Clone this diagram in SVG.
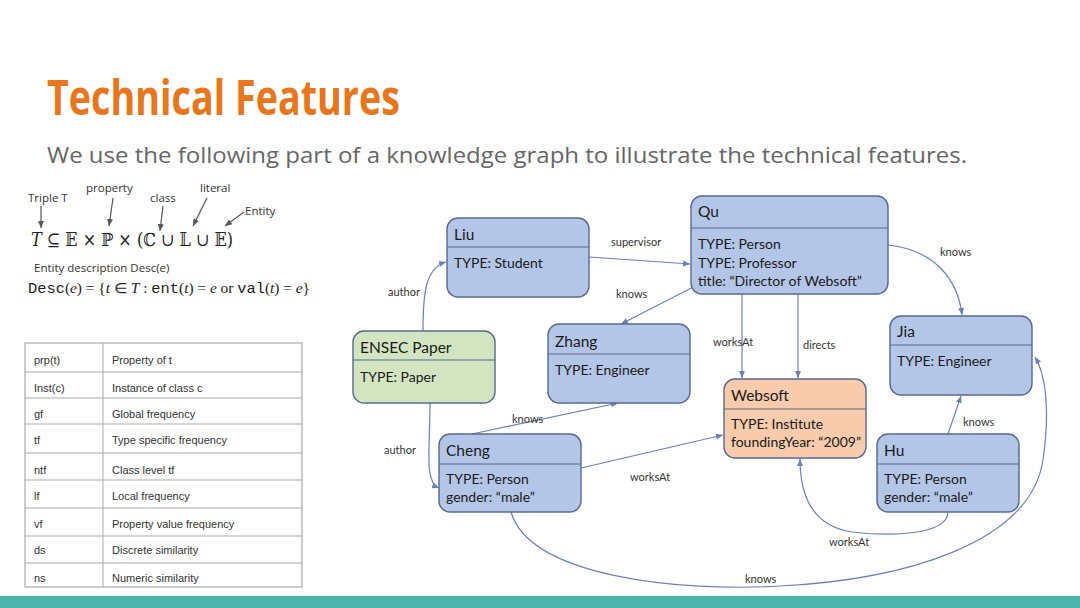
<svg xmlns="http://www.w3.org/2000/svg" width="1080" height="608" viewBox="0 0 1080 608">
<defs>
<style>
.node{stroke:#58698f;stroke-width:1.4}
.blue{fill:#b4c6e7}
.green{fill:#d3e4c1}
.orange{fill:#f7cbac}
.div{stroke:#58698f;stroke-width:1.1}
.nm{font-family:Lato,"Open Sans",sans-serif;font-size:15.5px;fill:#1a1a1a}
.at{font-family:Lato,"Open Sans",sans-serif;font-size:14px;fill:#1a1a1a}
.edge{fill:none;stroke:#6a80bd;stroke-width:1.2}
.el{font-family:Lato,"Open Sans",sans-serif;font-size:11px;fill:#333}
.tb{font-family:"Liberation Sans",Arial,sans-serif;font-size:11px;fill:#333}
.tl{stroke:#aaa;stroke-width:1}
.ann{font-family:"Open Sans",sans-serif;font-size:11.5px;fill:#333}
.ga{stroke:#555;stroke-width:1.2;fill:none}
</style>
<marker id="ah" markerWidth="8" markerHeight="8" refX="7" refY="4" orient="auto" markerUnits="userSpaceOnUse">
<path d="M0,1 L7,4 L0,7 Z" fill="#6a80bd"/>
</marker>
<marker id="ga" markerWidth="8" markerHeight="8" refX="7" refY="4" orient="auto" markerUnits="userSpaceOnUse">
<path d="M0,1 L7,4 L0,7 Z" fill="#555"/>
</marker>
</defs>
<rect x="0" y="0" width="1080" height="608" fill="#fff"/>
<text x="47" y="115" font-family="'Open Sans',sans-serif" font-weight="bold" font-size="48" fill="#e8761c" textLength="353" lengthAdjust="spacingAndGlyphs">Technical Features</text>
<text x="47" y="163" font-family="'Open Sans',sans-serif" font-size="22" fill="#666" textLength="920" lengthAdjust="spacingAndGlyphs">We use the following part of a knowledge graph to illustrate the technical features.</text>

<g id="formula">
<text class="ann" x="28" y="202">Triple T</text>
<text class="ann" x="86" y="192">property</text>
<text class="ann" x="150" y="202">class</text>
<text class="ann" x="200" y="192">literal</text>
<text class="ann" x="245" y="215">Entity</text>
<line class="ga" x1="41" y1="206" x2="41" y2="228" marker-end="url(#ga)"/>
<line class="ga" x1="113" y1="198" x2="109" y2="226" marker-end="url(#ga)"/>
<line class="ga" x1="163" y1="206" x2="160" y2="231" marker-end="url(#ga)"/>
<line class="ga" x1="207" y1="198" x2="193" y2="226" marker-end="url(#ga)"/>
<line class="ga" x1="244" y1="212" x2="225" y2="226" marker-end="url(#ga)"/>
<text x="31" y="246" font-family="'DejaVu Serif','Liberation Serif',serif" font-size="18" fill="#222" textLength="202" lengthAdjust="spacingAndGlyphs"><tspan font-style="italic">T</tspan> ⊆ 𝔼 × ℙ × (ℂ ∪ 𝕃 ∪ 𝔼)</text>
<text class="ann" x="34" y="272">Entity description Desc(e)</text>
<text x="28" y="293" font-family="'Liberation Serif',serif" font-size="14" fill="#222" textLength="282" lengthAdjust="spacingAndGlyphs"><tspan font-family="'Liberation Mono',monospace">Desc</tspan>(<tspan font-style="italic">e</tspan>) = {<tspan font-style="italic">t</tspan> ∈ <tspan font-style="italic">T</tspan> : <tspan font-family="'Liberation Mono',monospace">ent</tspan>(<tspan font-style="italic">t</tspan>) = <tspan font-style="italic">e</tspan> or <tspan font-family="'Liberation Mono',monospace">val</tspan>(<tspan font-style="italic">t</tspan>) = <tspan font-style="italic">e</tspan>}</text>
</g>

<g id="table">
<rect x="25" y="343" width="277" height="244" fill="#fff" stroke="#999" stroke-width="1"/>
<line class="tl" x1="103" y1="343" x2="103" y2="587"/>
<line class="tl" x1="25" y1="372" x2="302" y2="372"/>
<line class="tl" x1="25" y1="398" x2="302" y2="398"/>
<line class="tl" x1="25" y1="424" x2="302" y2="424"/>
<line class="tl" x1="25" y1="453" x2="302" y2="453"/>
<line class="tl" x1="25" y1="480" x2="302" y2="480"/>
<line class="tl" x1="25" y1="508" x2="302" y2="508"/>
<line class="tl" x1="25" y1="536" x2="302" y2="536"/>
<line class="tl" x1="25" y1="563" x2="302" y2="563"/>
<text class="tb" x="34" y="364">prp(t)</text><text class="tb" x="112" y="364">Property of t</text>
<text class="tb" x="34" y="392">Inst(c)</text><text class="tb" x="112" y="392">Instance of class c</text>
<text class="tb" x="34" y="418">gf</text><text class="tb" x="112" y="418">Global frequency</text>
<text class="tb" x="34" y="444">tf</text><text class="tb" x="112" y="444">Type specific frequency</text>
<text class="tb" x="34" y="474">ntf</text><text class="tb" x="112" y="474">Class level tf</text>
<text class="tb" x="34" y="500">lf</text><text class="tb" x="112" y="500">Local frequency</text>
<text class="tb" x="34" y="528">vf</text><text class="tb" x="112" y="528">Property value frequency</text>
<text class="tb" x="34" y="554">ds</text><text class="tb" x="112" y="554">Discrete similarity</text>
<text class="tb" x="34" y="582">ns</text><text class="tb" x="112" y="582">Numeric similarity</text>
</g>

<g id="connectors">
<path class="edge" d="M423,331 C423,295 425,268 446,262" marker-end="url(#ah)"/>
<text class="el" x="388" y="296">author</text>
<path class="edge" d="M430,403 C430,450 424,482 439,488" marker-end="url(#ah)"/>
<text class="el" x="384" y="454">author</text>
<path class="edge" d="M589,257 L690,264" marker-end="url(#ah)"/>
<text class="el" x="611" y="246">supervisor</text>
<path class="edge" d="M707,280 L621,324" marker-end="url(#ah)"/>
<text class="el" x="616" y="298">knows</text>
<path class="edge" d="M742,294 L742,378" marker-end="url(#ah)"/>
<text class="el" x="713" y="346">worksAt</text>
<path class="edge" d="M798,294 L798,378" marker-end="url(#ah)"/>
<text class="el" x="803" y="349">directs</text>
<path class="edge" d="M888,245 C935,250 958,280 962,315" marker-end="url(#ah)"/>
<text class="el" x="940" y="256">knows</text>
<path class="edge" d="M472,434 L618,403" marker-end="url(#ah)"/>
<text class="el" x="512" y="423">knows</text>
<path class="edge" d="M581,468 L723,435" marker-end="url(#ah)"/>
<text class="el" x="630" y="481">worksAt</text>
<path class="edge" d="M948,434 L961,396" marker-end="url(#ah)"/>
<text class="el" x="963" y="426">knows</text>
<path class="edge" d="M948,513 C946,534 895,537 852,532 C812,526 800,495 800,459" marker-end="url(#ah)"/>
<text class="el" x="829" y="546">worksAt</text>
<path class="edge" d="M511,512 C530,577 680,592 780,586 C900,580 1030,545 1043,460 C1050,410 1046,375 1035,357" marker-end="url(#ah)"/>
<text class="el" x="745" y="583">knows</text>
</g>

<g id="liu">
<rect class="node blue" x="447" y="218" width="142" height="79" rx="11"/>
<line class="div" x1="447" y1="247" x2="589" y2="247"/>
<text class="nm" x="454" y="240">Liu</text>
<text class="at" x="454" y="268">TYPE: Student</text>
</g>
<g id="qu">
<rect class="node blue" x="691" y="196" width="197" height="98" rx="11"/>
<line class="div" x1="691" y1="228" x2="888" y2="228"/>
<text class="nm" x="698" y="217">Qu</text>
<text class="at" x="698" y="249">TYPE: Person</text>
<text class="at" x="698" y="268">TYPE: Professor</text>
<text class="at" x="698" y="286">title: “Director of Websoft”</text>
</g>
<g id="ensec">
<rect class="node green" x="353" y="331" width="142" height="72" rx="11"/>
<line class="div" x1="353" y1="360" x2="495" y2="360"/>
<text class="nm" x="360" y="353">ENSEC Paper</text>
<text class="at" x="360" y="382">TYPE: Paper</text>
</g>
<g id="zhang">
<rect class="node blue" x="548" y="324" width="142" height="79" rx="11"/>
<line class="div" x1="548" y1="354" x2="690" y2="354"/>
<text class="nm" x="555" y="347">Zhang</text>
<text class="at" x="555" y="375">TYPE: Engineer</text>
</g>
<g id="websoft">
<rect class="node orange" x="724" y="379" width="142" height="79" rx="11"/>
<line class="div" x1="724" y1="409" x2="866" y2="409"/>
<text class="nm" x="731" y="401">Websoft</text>
<text class="at" x="731" y="429">TYPE: Institute</text>
<text class="at" x="731" y="447">foundingYear: “2009”</text>
</g>
<g id="jia">
<rect class="node blue" x="890" y="316" width="142" height="79" rx="11"/>
<line class="div" x1="890" y1="345" x2="1032" y2="345"/>
<text class="nm" x="897" y="337">Jia</text>
<text class="at" x="897" y="366">TYPE: Engineer</text>
</g>
<g id="cheng">
<rect class="node blue" x="439" y="434" width="142" height="78" rx="11"/>
<line class="div" x1="439" y1="464" x2="581" y2="464"/>
<text class="nm" x="446" y="456">Cheng</text>
<text class="at" x="446" y="484">TYPE: Person</text>
<text class="at" x="446" y="502">gender: “male”</text>
</g>
<g id="hu">
<rect class="node blue" x="877" y="434" width="142" height="78" rx="11"/>
<line class="div" x1="877" y1="464" x2="1019" y2="464"/>
<text class="nm" x="884" y="456">Hu</text>
<text class="at" x="884" y="484">TYPE: Person</text>
<text class="at" x="884" y="502">gender: “male”</text>
</g>
<rect x="0" y="596" width="1080" height="12" fill="#4db6ac"/>
</svg>
